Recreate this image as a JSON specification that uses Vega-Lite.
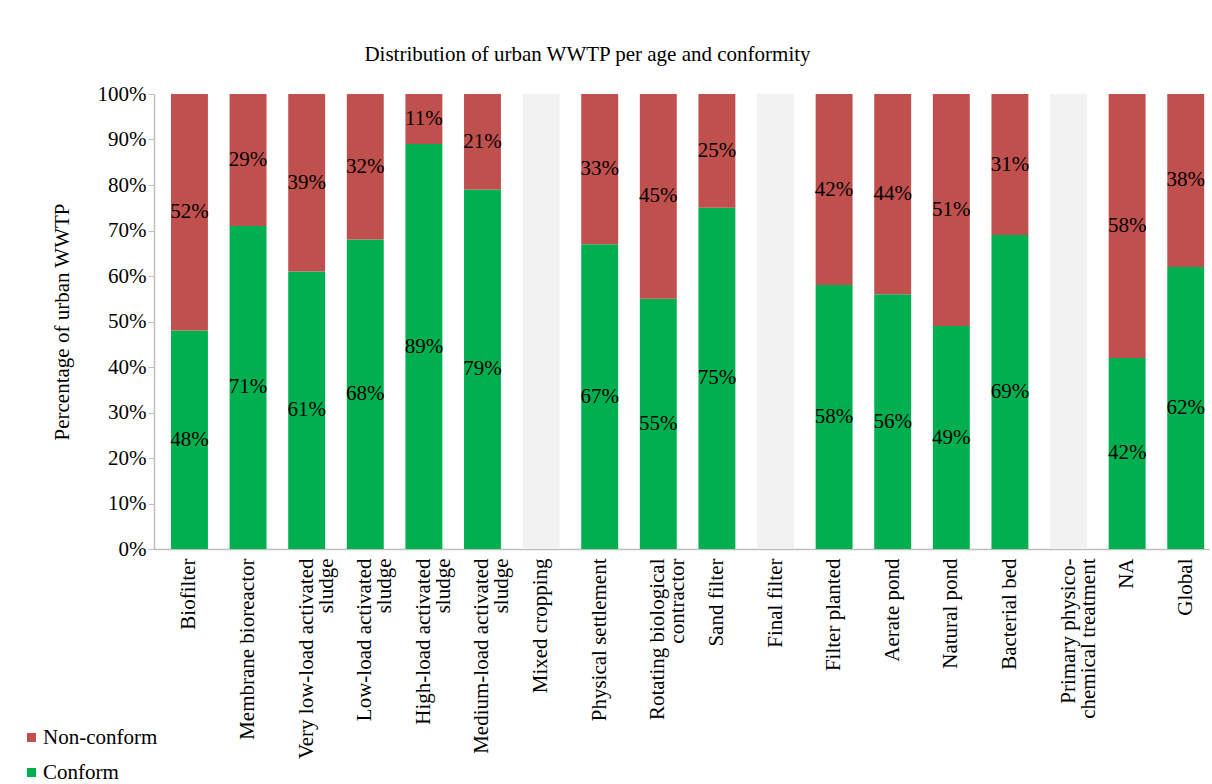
{
  "$schema": "https://vega.github.io/schema/vega-lite/v6.json",
  "autosize": {"type": "none"},
  "padding": {"left": 154, "top": 94, "right": 3, "bottom": 235},
  "width": 1055,
  "height": 455,
  "background": "white",
  "title": {
    "text": "Distribution of urban WWTP per age and conformity",
    "font": "Liberation Serif",
    "fontSize": 21,
    "fontWeight": "normal",
    "color": "black",
    "anchor": "middle",
    "dx": -94,
    "offset": 18
  },
  "data": {
    "values": [
      {"category": "Biofilter", "status": "Conform", "value": 0.48},
      {"category": "Biofilter", "status": "Non-conform", "value": 0.52},
      {"category": "Membrane bioreactor", "status": "Conform", "value": 0.71},
      {"category": "Membrane bioreactor", "status": "Non-conform", "value": 0.29},
      {"category": "Very low-load activated sludge", "status": "Conform", "value": 0.61},
      {"category": "Very low-load activated sludge", "status": "Non-conform", "value": 0.39},
      {"category": "Low-load activated sludge", "status": "Conform", "value": 0.68},
      {"category": "Low-load activated sludge", "status": "Non-conform", "value": 0.32},
      {"category": "High-load activated sludge", "status": "Conform", "value": 0.89},
      {"category": "High-load activated sludge", "status": "Non-conform", "value": 0.11},
      {"category": "Medium-load activated sludge", "status": "Conform", "value": 0.79},
      {"category": "Medium-load activated sludge", "status": "Non-conform", "value": 0.21},
      {"category": "Mixed cropping", "status": "None", "value": 1},
      {"category": "Physical settlement", "status": "Conform", "value": 0.67},
      {"category": "Physical settlement", "status": "Non-conform", "value": 0.33},
      {"category": "Rotating biological contractor", "status": "Conform", "value": 0.55},
      {"category": "Rotating biological contractor", "status": "Non-conform", "value": 0.45},
      {"category": "Sand filter", "status": "Conform", "value": 0.75},
      {"category": "Sand filter", "status": "Non-conform", "value": 0.25},
      {"category": "Final filter", "status": "None", "value": 1},
      {"category": "Filter planted", "status": "Conform", "value": 0.58},
      {"category": "Filter planted", "status": "Non-conform", "value": 0.42},
      {"category": "Aerate pond", "status": "Conform", "value": 0.56},
      {"category": "Aerate pond", "status": "Non-conform", "value": 0.44},
      {"category": "Natural pond", "status": "Conform", "value": 0.49},
      {"category": "Natural pond", "status": "Non-conform", "value": 0.51},
      {"category": "Bacterial bed", "status": "Conform", "value": 0.69},
      {"category": "Bacterial bed", "status": "Non-conform", "value": 0.31},
      {"category": "Primary physico-chemical treatment", "status": "None", "value": 1},
      {"category": "NA", "status": "Conform", "value": 0.42},
      {"category": "NA", "status": "Non-conform", "value": 0.58},
      {"category": "Global", "status": "Conform", "value": 0.62},
      {"category": "Global", "status": "Non-conform", "value": 0.38}
    ]
  },
  "transform": [
    {"stack": "value", "groupby": ["category"], "sort": [{"field": "status", "order": "ascending"}], "as": ["v0", "v1"]}
  ],
  "encoding": {
    "x": {
      "field": "category",
      "type": "nominal",
      "sort": null,
      "scale": {"paddingInner": 0.37, "paddingOuter": 0.186, "align": 0.78},
      "axis": {
        "title": null,
        "labelAngle": -90,
        "labelAlign": "right",
        "labelBaseline": "middle",
        "labelFont": "Liberation Serif",
        "labelFontSize": 21,
        "labelColor": "black",
        "labelLimit": 400,
        "labelPadding": 9,
        "labelLineHeight": 20,
        "ticks": false,
        "domainColor": "#bfbfbf",
        "domainWidth": 1.5,
        "labelExpr": "datum.label == 'Very low-load activated sludge' ? ['Very low-load activated', 'sludge'] : datum.label == 'Low-load activated sludge' ? ['Low-load activated', 'sludge'] : datum.label == 'High-load activated sludge' ? ['High-load activated', 'sludge'] : datum.label == 'Medium-load activated sludge' ? ['Medium-load activated', 'sludge'] : datum.label == 'Rotating biological contractor' ? ['Rotating biological', 'contractor'] : datum.label == 'Primary physico-chemical treatment' ? ['Primary physico-', 'chemical treatment'] : datum.label"
      }
    }
  },
  "layer": [
    {
      "mark": {"type": "bar"},
      "encoding": {
        "y": {
          "field": "v0",
          "type": "quantitative",
          "scale": {"domain": [0, 1], "nice": false},
          "axis": {
            "title": "Percentage of urban WWTP",
            "titleFont": "Liberation Serif",
            "titleFontSize": 21,
            "titleFontWeight": "normal",
            "titleColor": "black",
            "titlePadding": 25,
            "values": [0, 0.1, 0.2, 0.3, 0.4, 0.5, 0.6, 0.7, 0.8, 0.9, 1],
            "format": ".0%",
            "grid": false,
            "labelFont": "Liberation Serif",
            "labelFontSize": 21,
            "labelColor": "black",
            "labelPadding": 2,
            "tickSize": 6,
            "tickColor": "#bfbfbf",
            "domainColor": "#bfbfbf",
            "domainWidth": 1.5
          }
        },
        "y2": {"field": "v1"},
        "color": {
          "field": "status",
          "type": "nominal",
          "scale": {"domain": ["Non-conform", "Conform", "None"], "range": ["#C0504D", "#00B050", "#F2F2F2"]},
          "legend": {
            "title": null,
            "values": ["Non-conform", "Conform"],
            "orient": "none",
            "legendX": -133,
            "legendY": 633,
            "symbolType": "square",
            "symbolSize": 81,
            "symbolStrokeWidth": 0,
            "labelFont": "Liberation Serif",
            "labelFontSize": 21,
            "labelColor": "black",
            "labelOffset": 1,
            "rowPadding": 13,
            "padding": 0
          }
        }
      }
    },
    {
      "transform": [
        {"filter": "datum.status !== 'None'"},
        {"fold": ["v0", "v1"], "as": ["edge", "pos"]},
        {"aggregate": [{"op": "mean", "field": "pos", "as": "mid"}, {"op": "max", "field": "value", "as": "value"}], "groupby": ["category", "status"]}
      ],
      "mark": {"type": "text", "font": "Liberation Serif", "fontSize": 21, "color": "black"},
      "encoding": {
        "y": {"field": "mid", "type": "quantitative"},
        "text": {"field": "value", "type": "quantitative", "format": ".0%"}
      }
    }
  ],
  "config": {"view": {"stroke": null}}
}
